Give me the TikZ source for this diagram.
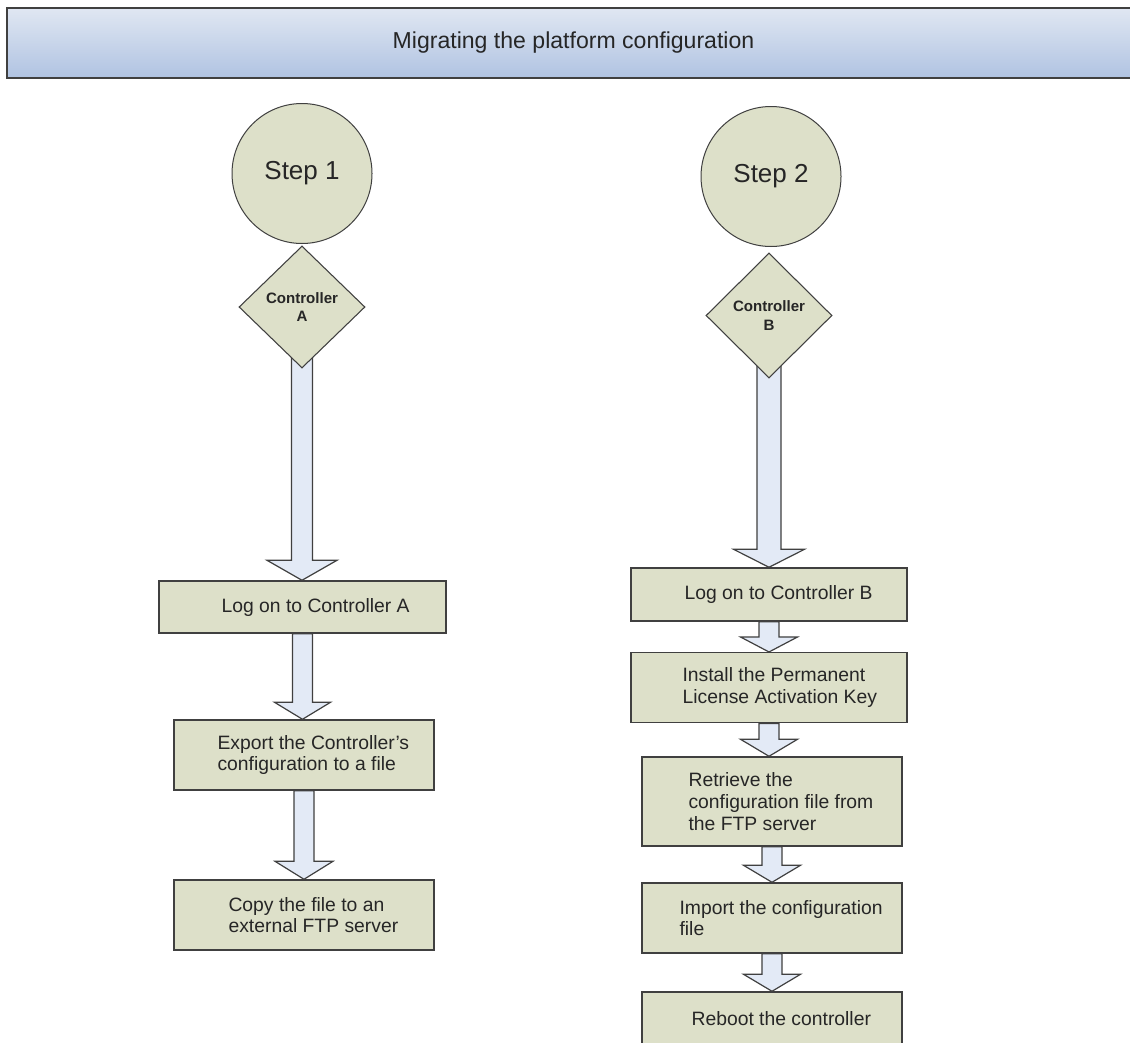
\documentclass[tikz,border=0pt]{standalone}
\usepackage{fontspec}
\setmainfont{Liberation Sans}
\usetikzlibrary{shapes.geometric}
\usetikzlibrary{calc}
\usetikzlibrary{backgrounds}

\definecolor{boxfill}{RGB}{221,224,201}
\definecolor{arrowfill}{RGB}{227,234,246}
\definecolor{edge}{RGB}{64,64,64}
\definecolor{headtop}{RGB}{224,231,242}
\definecolor{headbot}{RGB}{176,195,226}

\tikzset{
	stepcircle/.style={circle, draw=edge, line width=0.75pt, fill=boxfill, minimum size=105pt, inner sep=0pt, font=\fontsize{19.5}{23}\selectfont},
	ctrl/.style={diamond, draw=edge, line width=0.8pt, fill=boxfill, minimum width=94.5pt, inner sep=0pt, align=center, font=\bfseries\fontsize{11.3}{13.7}\selectfont},
	taskbox/.style={rectangle, draw=edge, line width=1.1pt, fill=boxfill, inner sep=0pt},
	tasktext/.style={anchor=west, align=left, inner sep=0pt, font=\fontsize{14.5}{16.3}\selectfont},
	fatarrow/.style={draw=edge, line width=0.9pt, fill=arrowfill},
}

% from, to, shaft half width, head half width, head length
\newcommand{\blockarrow}[5]{%
	\draw[fatarrow] ($(#1)+(-#3,0)$) -- ($(#2 -| #1)+(-#3,-#5)$) -- ($(#2 -| #1)+(-#4,-#5)$)
		-- (#2 -| #1) -- ($(#2 -| #1)+(#4,-#5)$) -- ($(#2 -| #1)+(#3,-#5)$) -- ($(#1)+(#3,0)$) -- cycle;}

\begin{document}
\begin{tikzpicture}[x=0.75pt, y=-0.75pt, text=black!85]
	\useasboundingbox (0,0) rectangle (1130,1042);

	\node[draw=edge, line width=1.5pt, top color=headtop, bottom color=headbot, minimum width=850pt, minimum height=52.5pt, font=\fontsize{17.3}{20}\selectfont] (hd) at (573.5,43) {Migrating the platform configuration};

	% step 1
	\node[stepcircle] (s1) at (302,173.5) {Step 1};
	\node[ctrl, minimum height=91.5pt] (ca) at (302,307) {Controller\\A};
	\node[taskbox, minimum width=215.25pt, minimum height=39pt] (a1) at (302.5,607) {};
	\node[taskbox, minimum width=195pt, minimum height=52.5pt] (a2) at (304,755) {};
	\node[taskbox, minimum width=195pt, minimum height=52.5pt] (a3) at (304,915) {};
	\node[tasktext] (a1t) at ($(a1.west)+(63,0)$) {Log on to Controller A};
	\node[tasktext] (a2t) at ($(a2.west)+(44,0)$) {Export the Controller's\\configuration to a file};
	\node[tasktext] (a3t) at ($(a3.west)+(55,0)$) {Copy the file to an\\external FTP server};

	% step 2
	\node[stepcircle] (s2) at (771,176.5) {Step 2};
	\node[ctrl, minimum height=93.75pt] (cb) at (769,315.5) {Controller\\B};
	\node[taskbox, minimum width=207pt, minimum height=39.75pt] (b1) at (769,594.5) {};
	\node[taskbox, minimum width=207pt, minimum height=52.5pt] (b2) at (769,687.7) {};
	\node[taskbox, minimum width=195pt, minimum height=66.75pt] (b3) at (772,801.5) {};
	\node[taskbox, minimum width=195pt, minimum height=52.5pt] (b4) at (772,918) {};
	\node[taskbox, minimum width=195pt, minimum height=39.75pt] (b5) at (772,1018.5) {};
	\node[tasktext] (b1t) at ($(b1.west)+(54,0)$) {Log on to Controller B};
	\node[tasktext] (b2t) at ($(b2.west)+(52,0)$) {Install the Permanent\\License Activation Key};
	\node[tasktext] (b3t) at ($(b3.west)+(47,0)$) {Retrieve the\\configuration file from\\the FTP server};
	\node[tasktext] (b4t) at ($(b4.west)+(38,0)$) {Import the configuration\\file};
	\node[tasktext] (b5t) at ($(b5.west)+(50,0)$) {Reboot the controller};

	\begin{scope}[on background layer]
		\fill[white] (0,0) rectangle (1130,1042);
		\blockarrow{ca.center}{a1.north}{10.5}{35}{20}
		\blockarrow{a1.south}{a2.north}{10}{28}{17}
		\blockarrow{a2.south}{a3.north}{10}{29}{18}
		\blockarrow{cb.center}{b1.north}{12}{35.5}{18}
		\blockarrow{b1.south}{b2.north}{10}{28.5}{15}
		\blockarrow{b2.south}{b3.north}{10}{28.5}{17}
		\blockarrow{b3.south}{b4.north}{10}{28.5}{17}
		\blockarrow{b4.south}{b5.north}{10}{28.5}{17}
	\end{scope}
\end{tikzpicture}
\end{document}
